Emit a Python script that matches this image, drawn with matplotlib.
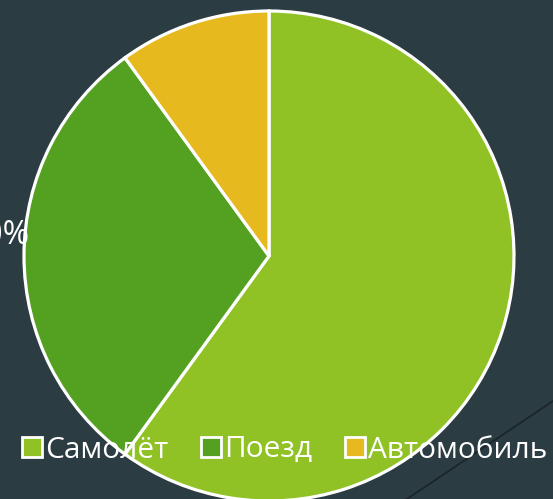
import matplotlib
matplotlib.use("Agg")
import matplotlib.pyplot as plt
from matplotlib.patches import Patch
from matplotlib.lines import Line2D

categories = ["Самолёт", "Поезд", "Автомобиль"]
values = [60, 30, 10]
colors = ["#90C226", "#54A021", "#E6B91E"]
bg = "#2C3C43"

plt.rcParams['font.family'] = ['Open Sans', 'DejaVu Sans']

W, H = 553, 499
fig = plt.figure(figsize=(W / 100, H / 100), dpi=100, facecolor=bg)

# decorative diagonal line
fig.add_artist(Line2D([407 / W, 1.0], [0.0, 1 - 401 / H], color="#1a2328", lw=1.2, zorder=0))

cx, cy, r = 269, 256, 245
ax = fig.add_axes([(cx - r) / W, (H - cy - r) / H, 2 * r / W, 2 * r / H])
ax.set_facecolor("none")
pd = 1.1
wedges, texts, autotexts = ax.pie(
    values, colors=colors, startangle=90, counterclock=False,
    wedgeprops=dict(edgecolor="white", linewidth=2.3),
    autopct=lambda p: f"{p:.0f}%", pctdistance=pd,
    textprops=dict(color="white", fontsize=23))
ax.set_xlim(-1, 1)
ax.set_ylim(-1, 1)
ax.set_aspect("equal")
for t in autotexts:
    t.set_clip_on(False)
# labels of the other slices lie outside the visible crop
for i in (0, 2):
    x0, y0 = autotexts[i].get_position()
    autotexts[i].set_position((x0 * 1.6 / pd, y0 * 1.6 / pd))
# the train label: right-aligned just left of the pie edge, slightly raised
x0, y0 = autotexts[1].get_position()
autotexts[1].set_horizontalalignment("right")
autotexts[1].set_position((x0 * 0.975 / pd, y0 + 0.085))

handles = [Patch(facecolor=c, edgecolor="white", linewidth=2) for c in colors]
leg = fig.legend(handles, categories, loc="center", bbox_to_anchor=(285 / W, 1 - 450 / H),
                 ncol=3, frameon=False, fontsize=21.5, labelcolor="white",
                 handlelength=0.65, handleheight=0.65, handletextpad=0.12,
                 columnspacing=1.1)

fig.savefig("out.png", dpi=100, facecolor=bg)
